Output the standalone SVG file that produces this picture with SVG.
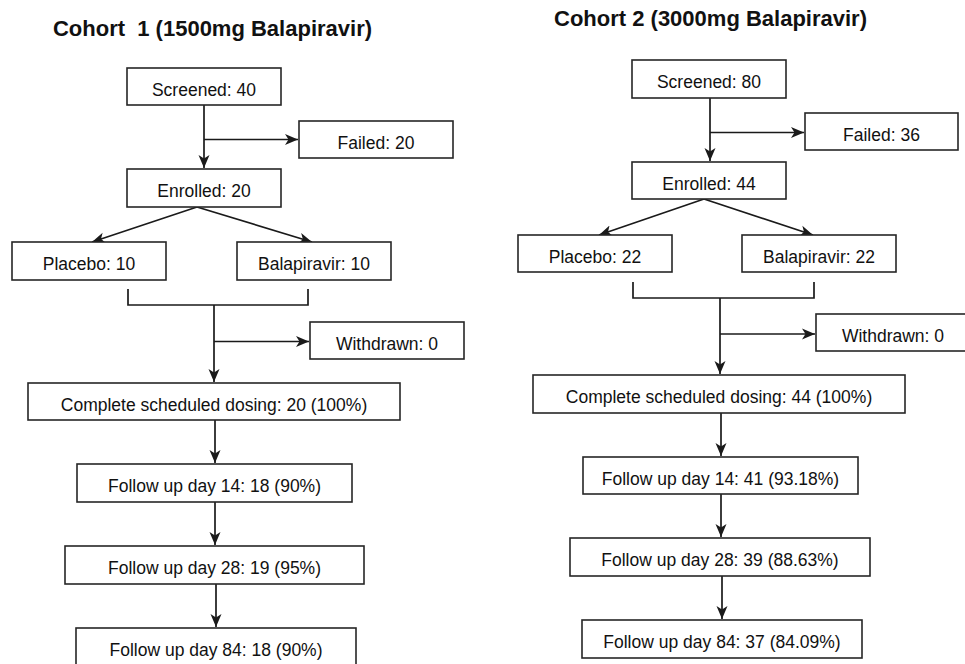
<svg xmlns="http://www.w3.org/2000/svg" width="965" height="664" viewBox="0 0 965 664">
<style>
.box rect{fill:#fff;stroke:#262626;stroke-width:1.6}
.box text{font-family:"Liberation Sans",Arial,sans-serif;font-size:17.5px;fill:#111;text-anchor:middle}
.title{font-family:"Liberation Sans",Arial,sans-serif;font-size:22px;font-weight:bold;fill:#111;text-anchor:middle}
.conn path{fill:none;stroke:#1a1a1a;stroke-width:1.7}
</style>
<defs>
<marker id="ah" markerUnits="userSpaceOnUse" markerWidth="14" markerHeight="14" viewBox="0 0 14 14" refX="13" refY="7" orient="auto">
<path d="M0,1.5 L13,7 L0,12.5 L3.5,7 z" fill="#1a1a1a"/>
</marker>
</defs>
<rect width="965" height="664" fill="#fff"/>
<text class="title" x="212.5" y="35.5" xml:space="preserve">Cohort  1 (1500mg Balapiravir)</text>
<text class="title" x="710.5" y="26">Cohort 2 (3000mg Balapiravir)</text>

<g class="conn" id="connectors">
<path d="M204,105 V168" marker-end="url(#ah)"/>
<path d="M204,139.5 H298" marker-end="url(#ah)"/>
<path d="M197,207 L92,242" marker-end="url(#ah)"/>
<path d="M197,207 L312,242" marker-end="url(#ah)"/>
<path d="M128,289 V305 H308 V289"/>
<path d="M214,305 V382" marker-end="url(#ah)"/>
<path d="M214,341.5 H309" marker-end="url(#ah)"/>
<path d="M215,420 V463" marker-end="url(#ah)"/>
<path d="M215,502 V545" marker-end="url(#ah)"/>
<path d="M216,584 V627" marker-end="url(#ah)"/>

<path d="M710,98 V161" marker-end="url(#ah)"/>
<path d="M710,132.5 H804" marker-end="url(#ah)"/>
<path d="M704,199 L599,235" marker-end="url(#ah)"/>
<path d="M704,199 L813,235" marker-end="url(#ah)"/>
<path d="M633,282 V298 H814 V282"/>
<path d="M720,298 V374" marker-end="url(#ah)"/>
<path d="M720,334 H815" marker-end="url(#ah)"/>
<path d="M721,413 V456" marker-end="url(#ah)"/>
<path d="M721,494 V537" marker-end="url(#ah)"/>
<path d="M722,576 V619" marker-end="url(#ah)"/>
</g>

<g class="box" id="c1-screened"><rect x="127" y="68" width="154" height="37"/><text x="204" y="95.5">Screened: 40</text></g>
<g class="box" id="c1-failed"><rect x="299" y="121" width="154" height="37"/><text x="376" y="148.5">Failed: 20</text></g>
<g class="box" id="c1-enrolled"><rect x="127" y="169" width="154" height="38"/><text x="204" y="196.5">Enrolled: 20</text></g>
<g class="box" id="c1-placebo"><rect x="12" y="242" width="154" height="38"/><text x="89" y="269.5">Placebo: 10</text></g>
<g class="box" id="c1-bala"><rect x="237" y="242" width="154" height="38"/><text x="314" y="269.5">Balapiravir: 10</text></g>
<g class="box" id="c1-withdrawn"><rect x="310" y="322" width="154" height="37"/><text x="387" y="349.5">Withdrawn: 0</text></g>
<g class="box" id="c1-complete"><rect x="28" y="383" width="372" height="37"/><text x="214" y="410.5">Complete scheduled dosing: 20 (100%)</text></g>
<g class="box" id="c1-fu14"><rect x="77" y="464" width="275" height="38"/><text x="214.5" y="491.5">Follow up day 14: 18 (90%)</text></g>
<g class="box" id="c1-fu28"><rect x="65" y="546" width="299" height="38"/><text x="214.5" y="573.5">Follow up day 28: 19 (95%)</text></g>
<g class="box" id="c1-fu84"><rect x="76" y="628" width="280" height="40"/><text x="216" y="655.5">Follow up day 84: 18 (90%)</text></g>

<g class="box" id="c2-screened"><rect x="632" y="60" width="154" height="38"/><text x="709" y="87.5">Screened: 80</text></g>
<g class="box" id="c2-failed"><rect x="805" y="113" width="153" height="37"/><text x="881.5" y="140.5">Failed: 36</text></g>
<g class="box" id="c2-enrolled"><rect x="632" y="162" width="154" height="37"/><text x="709" y="189.5">Enrolled: 44</text></g>
<g class="box" id="c2-placebo"><rect x="518" y="235" width="154" height="37"/><text x="595" y="262.5">Placebo: 22</text></g>
<g class="box" id="c2-bala"><rect x="742" y="235" width="154" height="37"/><text x="819" y="262.5">Balapiravir: 22</text></g>
<g class="box" id="c2-withdrawn"><rect x="816" y="314" width="156" height="37"/><text x="893" y="341.5">Withdrawn: 0</text></g>
<g class="box" id="c2-complete"><rect x="533" y="375" width="372" height="38"/><text x="719" y="402.5">Complete scheduled dosing: 44 (100%)</text></g>
<g class="box" id="c2-fu14"><rect x="583" y="457" width="275" height="37"/><text x="720.5" y="484.5">Follow up day 14: 41 (93.18%)</text></g>
<g class="box" id="c2-fu28"><rect x="570" y="538" width="300" height="38"/><text x="720" y="565.5">Follow up day 28: 39 (88.63%)</text></g>
<g class="box" id="c2-fu84"><rect x="582" y="620" width="280" height="38"/><text x="722" y="647.5">Follow up day 84: 37 (84.09%)</text></g>
</svg>
